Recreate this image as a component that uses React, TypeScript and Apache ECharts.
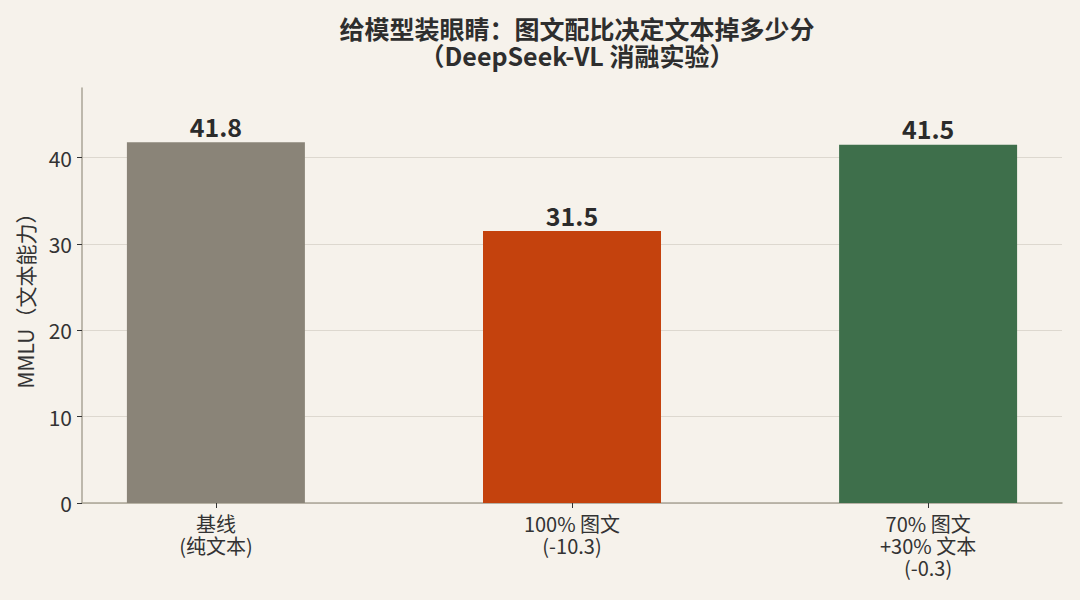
import React, { useEffect, useRef } from "react";
import * as echarts from "echarts";

const categories = ["基线\n(纯文本)", "100% 图文\n(-10.3)", "70% 图文\n+30% 文本\n(-0.3)"];
const values = [41.8, 31.5, 41.5];
const barColors = ["#8a8478", "#c4420d", "#3e6f4b"];
const yTicks = [0, 10, 20, 30, 40];
const xPositions = [0, 1, 2];

const FONT = "'Noto Sans CJK SC', 'Noto Sans', sans-serif";

export default function App() {
  const ref = useRef<HTMLDivElement>(null);
  useEffect(() => {
    document.body.style.margin = "0";
    const chart = echarts.init(ref.current!, null, { renderer: "svg" });
    chart.setOption({
      animation: false,
      backgroundColor: "#f6f2eb",
      textStyle: { fontFamily: FONT },
      title: {
        text: "给模型装眼睛：图文配比决定文本掉多少分\n（DeepSeek-VL 消融实验）",
        left: 572,
        top: 9,
        textAlign: "center",
        textStyle: {
          fontFamily: FONT,
          fontSize: 25,
          fontWeight: "bold",
          color: "#2e2e2e",
          lineHeight: 27,
        },
      },
      grid: { left: 82, right: 18, top: 88, bottom: 97 },
      xAxis: {
        type: "value",
        min: -0.376,
        max: 2.376,
        axisLine: { show: true, onZero: false, lineStyle: { color: "#aaa597", width: 1.5 } },
        axisTick: { show: true, customValues: xPositions, length: 5, lineStyle: { color: "#333" } },
        axisLabel: {
          customValues: xPositions,
          formatter: (v: number) => categories[Math.round(v)],
          fontFamily: FONT,
          fontSize: 20,
          lineHeight: 22,
          color: "#333",
          margin: 9,
          verticalAlign: "top",
        },
        splitLine: { show: false },
      },
      yAxis: {
        type: "value",
        min: 0,
        max: 48.07,
        interval: 10,
        name: "MMLU（文本能力）",
        nameLocation: "middle",
        nameGap: 47,
        nameTextStyle: { fontFamily: FONT, fontSize: 21, color: "#333" },
        axisLine: { show: true, onZero: false, lineStyle: { color: "#aaa597", width: 1.5 } },
        axisTick: { show: true, customValues: yTicks, length: 5, lineStyle: { color: "#333" } },
        axisLabel: {
          customValues: yTicks,
          fontFamily: FONT,
          fontSize: 21,
          color: "#333",
          margin: 10,
        },
        splitLine: { show: true, lineStyle: { color: "#ddd8cf", width: 1 } },
      },
      series: [
        {
          type: "bar",
          barWidth: 178,
          data: xPositions.map((x, i) => ({
            value: [x, values[i]],
            itemStyle: { color: barColors[i] },
          })),
          label: {
            show: true,
            position: "top",
            distance: 4,
            formatter: (p: any) => p.value[1].toFixed(1),
            fontFamily: FONT,
            fontSize: 25,
            fontWeight: "bold",
            color: "#2b2b2b",
          },
        },
      ],
    });
    return () => chart.dispose();
  }, []);
  return <div ref={ref} style={{ width: 1080, height: 600 }} />;
}
